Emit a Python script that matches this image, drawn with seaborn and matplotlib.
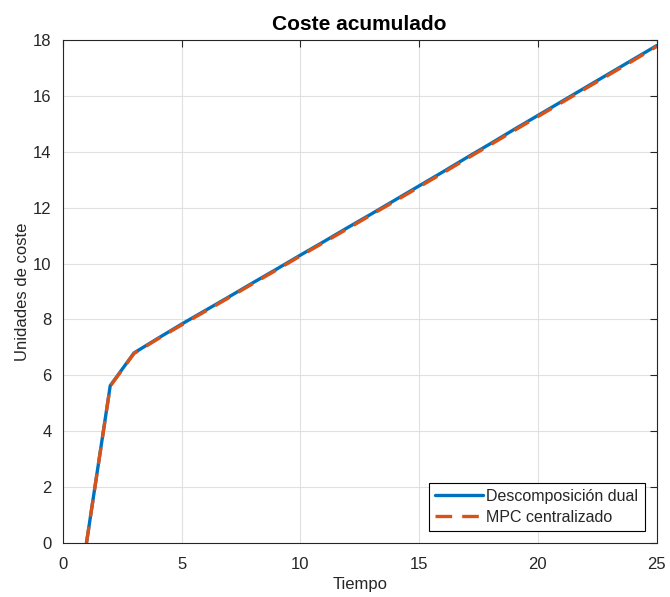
import numpy as np
import pandas as pd
import matplotlib
matplotlib.use("Agg")
import matplotlib.pyplot as plt
import seaborn as sns

# Accumulated cost per time step for both controllers
tiempo = list(range(1, 26))
coste_dual = [0.0, 5.63, 6.80, 7.32, 7.83, 8.32, 8.81, 9.31, 9.80, 10.30,
              10.79, 11.29, 11.78, 12.28, 12.78, 13.28, 13.79, 14.29, 14.80, 15.30,
              15.80, 16.30, 16.80, 17.30, 17.80]
coste_central = [0.0, 5.61, 6.78, 7.30, 7.80, 8.29, 8.78, 9.28, 9.77, 10.27,
                 10.76, 11.25, 11.75, 12.24, 12.74, 13.24, 13.75, 14.25, 14.76, 15.26,
                 15.76, 16.26, 16.76, 17.26, 17.77]

xticks = [0, 5, 10, 15, 20, 25]
yticks = [0, 2, 4, 6, 8, 10, 12, 14, 16, 18]

sns.set_theme(style="white")
plt.rcParams["font.family"] = ["Liberation Sans", "DejaVu Sans"]

df_dual = pd.DataFrame({"Tiempo": tiempo, "Coste": coste_dual})
df_central = pd.DataFrame({"Tiempo": tiempo, "Coste": coste_central})

fig = plt.figure(figsize=(6.70, 5.97), dpi=100)
ax = fig.add_axes([0.0936, 0.0905, 0.8866, 0.8425])

axis_color = "#262626"
sns.lineplot(data=df_dual, x="Tiempo", y="Coste", ax=ax, color="#0072BD",
             linewidth=2.4, label="Descomposición dual")
sns.lineplot(data=df_central, x="Tiempo", y="Coste", ax=ax, color="#D95319",
             linewidth=2.4, dashes=False, label="MPC centralizado")
ax.lines[1].set_dashes((5, 3))

ax.set_xlim(0, 25)
ax.set_ylim(0, 18)
ax.set_xticks(xticks)
ax.set_yticks(yticks)
ax.grid(True, color="#e0e0e0", linewidth=0.8)
ax.set_axisbelow(True)

for s in ax.spines.values():
    s.set_color(axis_color)
    s.set_linewidth(0.8)
ax.tick_params(axis="both", which="both", direction="in", length=5, width=0.8,
               colors=axis_color, labelsize=12, top=True, right=True,
               labelcolor=axis_color)
ax.tick_params(axis="x", pad=10)
ax.tick_params(axis="y", pad=8)

ax.set_xlabel("Tiempo", fontsize=12, color=axis_color, labelpad=4)
ax.set_ylabel("Unidades de coste", fontsize=12, color=axis_color, labelpad=2)
ax.set_title("Coste acumulado", fontsize=15, fontweight="bold", color="black", pad=7)

leg = ax.legend(loc="lower right", fontsize=11.5, frameon=True, fancybox=False,
                edgecolor="black", framealpha=1, handlelength=3.0,
                handletextpad=0.2, borderpad=0.4, labelspacing=0.35,
                borderaxespad=0.75)
leg.get_frame().set_linewidth(0.8)

fig.savefig("out.png", dpi=100, facecolor="white")
